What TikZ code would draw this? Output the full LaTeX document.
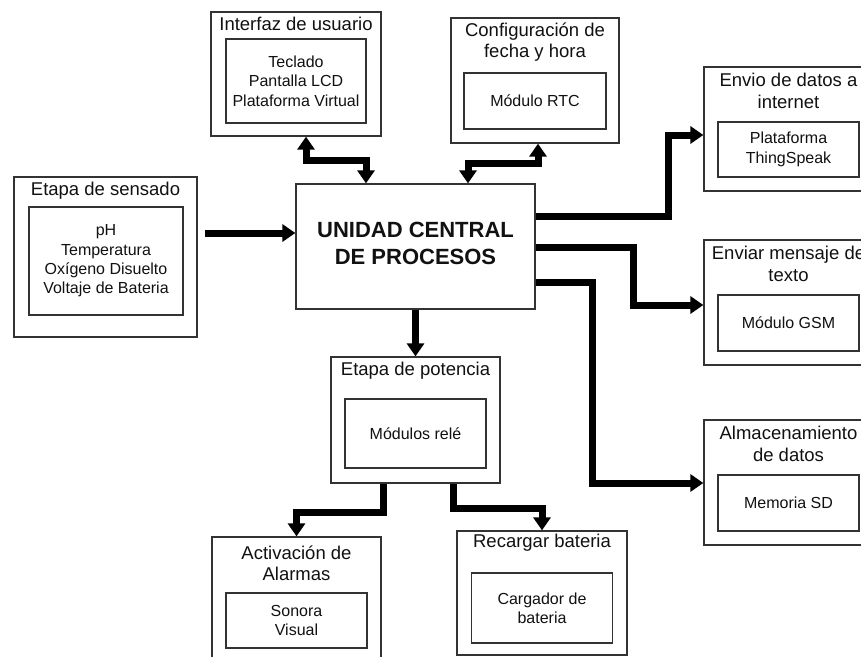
\documentclass[tikz,border=0pt]{standalone}
\usepackage{fontspec}
\setmainfont{Liberation Sans}
\usetikzlibrary{arrows.meta}

\definecolor{boxgray}{HTML}{333333}
\definecolor{inkblack}{HTML}{111111}

\tikzset{
  outerbox/.style={draw=boxgray, line width=1.3pt, fill=white, inner sep=0pt},
  innerbox/.style={draw=boxgray, line width=1.3pt, inner sep=0pt, align=center,
    text=inkblack, font=\fontsize{16}{19.3}\selectfont},
  titletext/.style={align=center, inner sep=0pt, text=inkblack,
    font=\fontsize{18.5}{21.5}\selectfont},
  cputext/.style={align=center, inner sep=0pt, text=inkblack,
    font=\fontsize{22}{27}\selectfont\bfseries},
  flow/.style={draw=black, line width=7pt, -{Triangle[length=13pt,width=17pt]}},
  dualflow/.style={draw=black, line width=7pt,
    {Triangle[length=13pt,width=17pt]}-{Triangle[length=13pt,width=17pt]}},
}

\begin{document}
\begin{tikzpicture}[x=1pt, y=-1pt]
  \useasboundingbox (0,0) rectangle (861,656);
  \clip (0,0) rectangle (861,656);
  \fill[white] (0,0) rectangle (861,656);

  % Sensing stage
  \node[outerbox, minimum width=183pt, minimum height=160pt] (sens) at (105.5,257) {};
  \node[titletext] (sensT) at (105.5,191) {Etapa de sensado};
  \node[innerbox, minimum width=154pt, minimum height=108pt] (sensI) at (106,261)
    {pH\\Temperatura\\Oxígeno Disuelto\\Voltaje de Bateria};

  % Central processing unit
  \node[outerbox, minimum width=239pt, minimum height=125pt] (cpu) at (415.5,246.5) {};
  \node[cputext] (cpuT) at (415.5,243.5) {UNIDAD CENTRAL\\DE PROCESOS};

  % User interface
  \node[outerbox, minimum width=170pt, minimum height=124pt] (ui) at (296,74) {};
  \node[titletext] (uiT) at (296,24) {Interfaz de usuario};
  \node[innerbox, minimum width=140pt, minimum height=84pt] (uiI) at (296,81)
    {Teclado\\Pantalla LCD\\Plataforma Virtual};

  % Date and time
  \node[outerbox, minimum width=168pt, minimum height=125pt] (rtc) at (535,80.5) {};
  \node[titletext] (rtcT) at (535,42) {Configuración de\\fecha y hora};
  \node[innerbox, minimum width=142pt, minimum height=56pt] (rtcI) at (535,101) {Módulo RTC};

  % Internet upload
  \node[outerbox, minimum width=169pt, minimum height=124pt] (web) at (788.5,129) {};
  \node[titletext] (webT) at (788.5,91) {Envio de datos a\\internet};
  \node[innerbox, minimum width=141pt, minimum height=55pt] (webI) at (788.5,149.5)
    {Plataforma\\ThingSpeak};

  % Text messages
  \node[outerbox, minimum width=169pt, minimum height=125pt] (gsm) at (788.5,302.5) {};
  \node[titletext] (gsmT) at (788.5,264) {Enviar mensaje de\\texto};
  \node[innerbox, minimum width=141pt, minimum height=56pt] (gsmI) at (788.5,323) {Módulo GSM};

  % Data storage
  \node[outerbox, minimum width=169pt, minimum height=125pt] (sd) at (788.5,482.5) {};
  \node[titletext] (sdT) at (788.5,444) {Almacenamiento\\de datos};
  \node[innerbox, minimum width=141pt, minimum height=56pt] (sdI) at (788.5,503) {Memoria SD};

  % Power stage
  \node[outerbox, minimum width=169pt, minimum height=126pt] (pot) at (415.5,420) {};
  \node[titletext] (potT) at (415.5,371) {Etapa de potencia};
  \node[innerbox, minimum width=141pt, minimum height=69pt] (potI) at (415.5,433.5) {Módulos relé};

  % Alarms
  \node[outerbox, minimum width=169pt, minimum height=125pt] (alarm) at (296.5,599.5) {};
  \node[titletext] (alarmT) at (296.5,563.5) {Activación de\\Alarmas};
  \node[innerbox, minimum width=141pt, minimum height=55pt] (alarmI) at (296.5,620.5)
    {Sonora\\Visual};

  % Battery charging
  \node[outerbox, minimum width=170pt, minimum height=124pt] (rec) at (542,593) {};
  \node[titletext] (recT) at (542,543) {Recargar bateria};
  \node[innerbox, minimum width=141pt, minimum height=70pt] (recI) at (542,608)
    {Cargador de\\bateria};

  % Connectors
  \draw[flow, shorten <=7pt] (sens.east |- 0,233) -- (cpu.west |- 0,233);
  \draw[dualflow] ([xshift=10pt]ui.south) -- ++(0,24) -| ([xshift=-49.5pt]cpu.north);
  \draw[dualflow] ([xshift=3pt]rtc.south) -- ++(0,20) -| ([xshift=52.5pt]cpu.north);
  \draw[flow] (cpu.east |- 0,216) -| (668,175) |- (web.west |- 0,135);
  \draw[flow] (cpu.east |- 0,247) -| (633,280) |- (gsm.west |- 0,305);
  \draw[flow] (cpu.east |- 0,282) -| (592,400) |- (sd.west |- 0,483);
  \draw[flow] (cpu.south) -- (pot.north);
  \draw[flow] ([xshift=-32.5pt]pot.south) -- ++(0,29) -| (alarm.north);
  \draw[flow] ([xshift=37.5pt]pot.south) -- ++(0,25) -| (rec.north);
\end{tikzpicture}
\end{document}
